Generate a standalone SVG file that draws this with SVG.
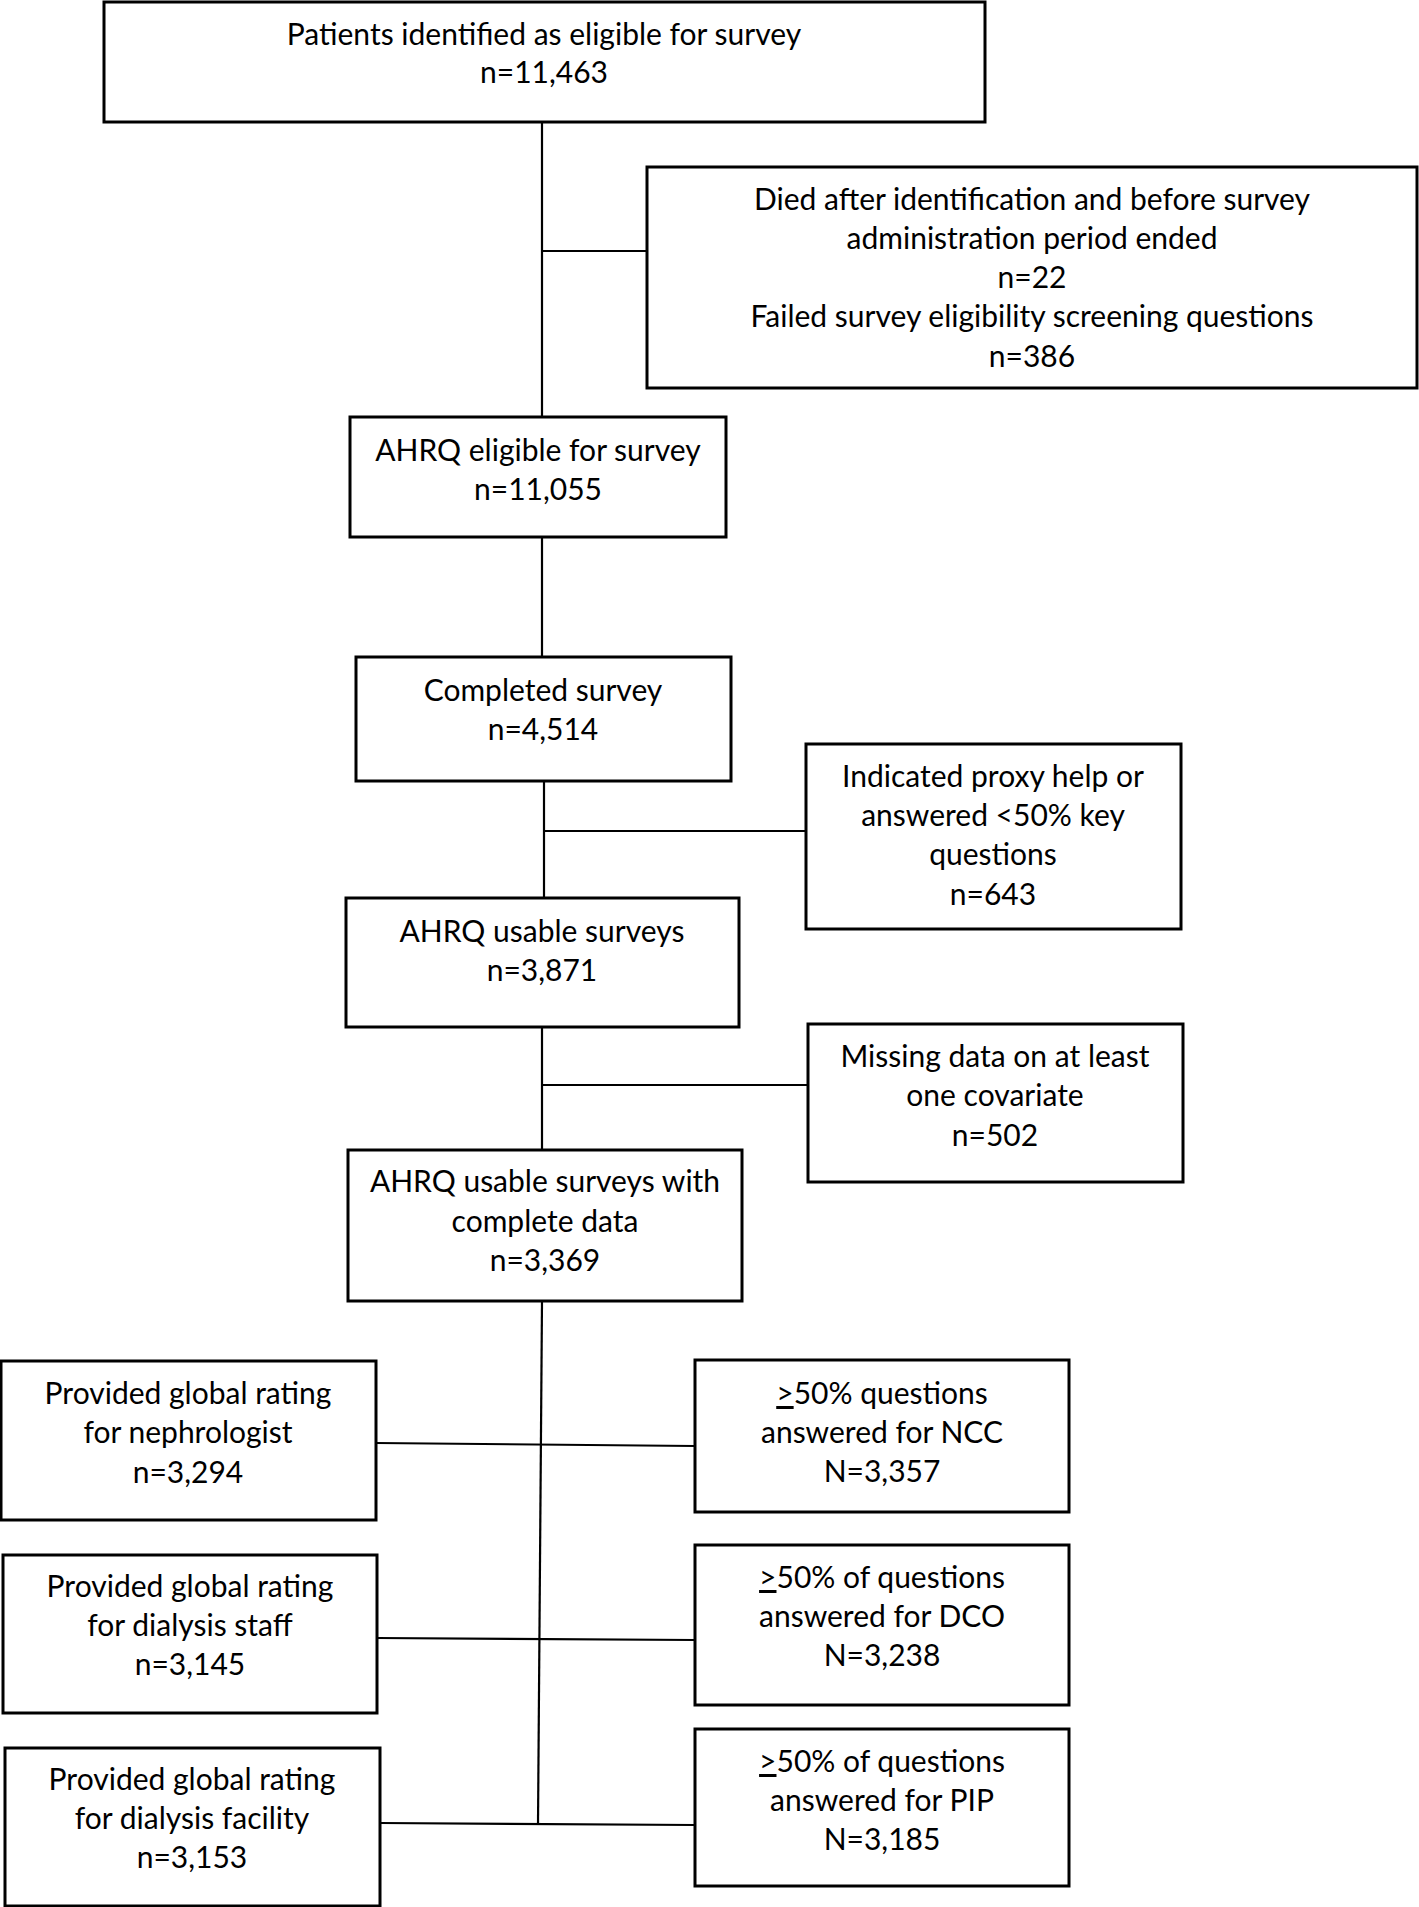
<svg xmlns="http://www.w3.org/2000/svg" width="1419" height="1907" viewBox="0 0 1419 1907">
<style>
.box{fill:#fff;stroke:#000;stroke-width:3}
.con line{stroke:#000;stroke-width:2.2;fill:none}
text{font-family:Lato,"Liberation Sans",sans-serif;font-size:30px;fill:#000;text-anchor:middle}
</style>
<rect width="1419" height="1907" fill="#fff"/>
<g id="connectors" class="con">
<line x1="542" y1="122" x2="542" y2="417"/>
<line x1="542" y1="251" x2="647" y2="251"/>
<line x1="542" y1="537" x2="542" y2="657"/>
<line x1="544" y1="781" x2="544" y2="898"/>
<line x1="544" y1="831" x2="806" y2="831"/>
<line x1="542" y1="1027" x2="542" y2="1150"/>
<line x1="542" y1="1085" x2="808" y2="1085"/>
<line x1="542" y1="1301" x2="538" y2="1824"/>
<line x1="376" y1="1443" x2="695" y2="1446"/>
<line x1="377" y1="1638" x2="695" y2="1640"/>
<line x1="380" y1="1823" x2="695" y2="1825"/>
</g>
<g id="n1"><rect class="box" x="104" y="2" width="881" height="120"/>
<text x="544" y="45">Patients identified as eligible for survey</text><text x="544" y="83">n=11,463</text></g>
<g id="n2"><rect class="box" x="647" y="167" width="770" height="221"/>
<text x="1032" y="210">Died after identification and before survey</text>
<text x="1032" y="249">administration period ended</text>
<text x="1032" y="288">n=22</text>
<text x="1032" y="327">Failed survey eligibility screening questions</text>
<text x="1032" y="367">n=386</text></g>
<g id="n3"><rect class="box" x="350" y="417" width="376" height="120"/>
<text x="538" y="461">AHRQ eligible for survey</text><text x="538" y="500">n=11,055</text></g>
<g id="n4"><rect class="box" x="356" y="657" width="375" height="124"/>
<text x="543" y="701">Completed survey</text><text x="543" y="740">n=4,514</text></g>
<g id="n5"><rect class="box" x="346" y="898" width="393" height="129"/>
<text x="542" y="942">AHRQ usable surveys</text><text x="542" y="981">n=3,871</text></g>
<g id="n6"><rect class="box" x="806" y="744" width="375" height="185"/>
<text x="993" y="787">Indicated proxy help or</text>
<text x="993" y="826">answered &lt;50% key</text>
<text x="993" y="865">questions</text>
<text x="993" y="905">n=643</text></g>
<g id="n7"><rect class="box" x="348" y="1150" width="394" height="151"/>
<text x="545" y="1192">AHRQ usable surveys with</text>
<text x="545" y="1232">complete data</text>
<text x="545" y="1271">n=3,369</text></g>
<g id="n8"><rect class="box" x="808" y="1024" width="375" height="158"/>
<text x="995" y="1067">Missing data on at least</text>
<text x="995" y="1106">one covariate</text>
<text x="995" y="1146">n=502</text></g>
<g id="n9"><rect class="box" x="1" y="1361" width="375" height="159"/>
<text x="188" y="1404">Provided global rating</text>
<text x="188" y="1443">for nephrologist</text>
<text x="188" y="1483">n=3,294</text></g>
<g id="n10"><rect class="box" x="695" y="1360" width="374" height="152"/>
<text x="882" y="1404"><tspan text-decoration="underline">&gt;</tspan>50% questions</text>
<text x="882" y="1443">answered for NCC</text>
<text x="882" y="1482">N=3,357</text></g>
<g id="n11"><rect class="box" x="3" y="1555" width="374" height="158"/>
<text x="190" y="1597">Provided global rating</text>
<text x="190" y="1636">for dialysis staff</text>
<text x="190" y="1675">n=3,145</text></g>
<g id="n12"><rect class="box" x="695" y="1545" width="374" height="160"/>
<text x="882" y="1588"><tspan text-decoration="underline">&gt;</tspan>50% of questions</text>
<text x="882" y="1627">answered for DCO</text>
<text x="882" y="1666">N=3,238</text></g>
<g id="n13"><rect class="box" x="5" y="1748" width="375" height="158"/>
<text x="192" y="1790">Provided global rating</text>
<text x="192" y="1829">for dialysis facility</text>
<text x="192" y="1868">n=3,153</text></g>
<g id="n14"><rect class="box" x="695" y="1729" width="374" height="157"/>
<text x="882" y="1772"><tspan text-decoration="underline">&gt;</tspan>50% of questions</text>
<text x="882" y="1811">answered for PIP</text>
<text x="882" y="1850">N=3,185</text></g>
</svg>
